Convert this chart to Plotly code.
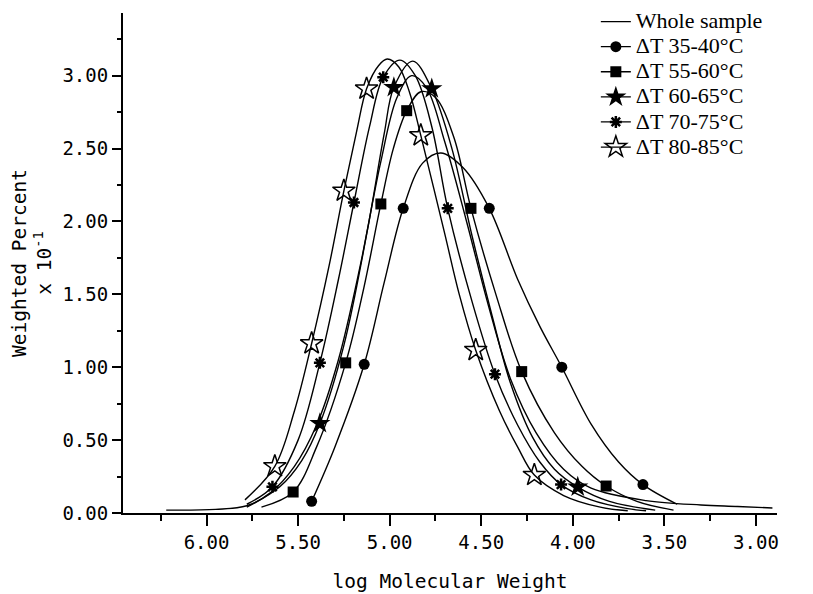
import plotly.graph_objects as go

# ---- data ----
series_names = ["Whole sample", "ΔT 35-40°C", "ΔT 55-60°C", "ΔT 60-65°C", "ΔT 70-75°C", "ΔT 80-85°C"]

# smooth curves
whole_x = [6.22, 5.95, 5.78, 5.65, 5.52, 5.40, 5.28, 5.16, 5.05, 4.96, 4.88, 4.80, 4.70, 4.58, 4.46, 4.34, 4.20, 4.05, 3.90, 3.60, 3.30, 3.10, 2.91]
whole_y = [0.02, 0.025, 0.05, 0.14, 0.32, 0.60, 1.05, 1.70, 2.40, 2.85, 3.00, 2.92, 2.55, 2.00, 1.42, 0.92, 0.55, 0.30, 0.17, 0.085, 0.055, 0.045, 0.034]

c3540_x = [5.426, 5.30, 5.139, 5.03, 4.926, 4.82, 4.72, 4.60, 4.456, 4.30, 4.18, 4.06, 3.90, 3.75, 3.617, 3.43]
c3540_y = [0.08, 0.45, 1.02, 1.58, 2.09, 2.40, 2.47, 2.37, 2.09, 1.60, 1.28, 1.00, 0.61, 0.35, 0.195, 0.06]

c5560_x = [5.70, 5.527, 5.40, 5.24, 5.14, 5.048, 4.98, 4.907, 4.83, 4.75, 4.65, 4.556, 4.42, 4.279, 4.10, 3.95, 3.818, 3.65, 3.45]
c5560_y = [0.04, 0.144, 0.45, 1.03, 1.55, 2.12, 2.50, 2.76, 2.89, 2.85, 2.58, 2.09, 1.50, 0.97, 0.55, 0.32, 0.185, 0.08, 0.02]

c6065_x = [5.78, 5.60, 5.48, 5.381, 5.25, 5.12, 5.03, 4.977, 4.874, 4.77, 4.66, 4.55, 4.44, 4.34, 4.22, 4.10, 3.973, 3.80, 3.55]
c6065_y = [0.04, 0.18, 0.36, 0.614, 1.15, 1.95, 2.60, 2.92, 3.10, 2.91, 2.50, 1.90, 1.35, 0.89, 0.52, 0.30, 0.178, 0.08, 0.02]

c7075_x = [5.78, 5.64, 5.50, 5.381, 5.28, 5.195, 5.11, 5.035, 4.944, 4.86, 4.77, 4.683, 4.55, 4.425, 4.30, 4.18, 4.064, 3.90, 3.70, 3.60]
c7075_y = [0.06, 0.18, 0.50, 1.03, 1.60, 2.13, 2.65, 2.99, 3.107, 3.00, 2.65, 2.09, 1.45, 0.952, 0.60, 0.35, 0.195, 0.09, 0.03, 0.015]

c8085_x = [5.79, 5.627, 5.52, 5.426, 5.33, 5.25, 5.18, 5.126, 5.06, 5.013, 4.95, 4.89, 4.83, 4.70, 4.62, 4.53, 4.40, 4.30, 4.21, 4.05, 3.85, 3.70]
c8085_y = [0.09, 0.32, 0.70, 1.163, 1.70, 2.21, 2.62, 2.91, 3.07, 3.114, 3.06, 2.88, 2.59, 1.92, 1.50, 1.117, 0.70, 0.45, 0.26, 0.12, 0.04, 0.015]

# marker points
m3540_x = [5.426, 5.139, 4.926, 4.456, 4.06, 3.617]
m3540_y = [0.08, 1.02, 2.09, 2.09, 1.00, 0.195]
m5560_x = [5.527, 5.24, 5.048, 4.907, 4.556, 4.279, 3.818]
m5560_y = [0.144, 1.03, 2.12, 2.76, 2.09, 0.97, 0.185]
m6065_x = [5.381, 4.977, 4.77, 3.973]
m6065_y = [0.614, 2.92, 2.91, 0.178]
m7075_x = [5.64, 5.381, 5.195, 5.035, 4.683, 4.425, 4.064]
m7075_y = [0.18, 1.03, 2.13, 2.99, 2.09, 0.952, 0.195]
m8085_x = [5.627, 5.426, 5.25, 5.126, 4.83, 4.53, 4.21]
m8085_y = [0.32, 1.163, 2.21, 2.91, 2.59, 1.117, 0.26]

x_tickvals = [6.0, 5.5, 5.0, 4.5, 4.0, 3.5, 3.0]
x_ticktext = ["6.00", "5.50", "5.00", "4.50", "4.00", "3.50", "3.00"]
y_tickvals = [0.0, 0.5, 1.0, 1.5, 2.0, 2.5, 3.0]
y_ticktext = ["0.00", "0.50", "1.00", "1.50", "2.00", "2.50", "3.00"]

# ---- styles ----
curves = [(whole_x, whole_y), (c3540_x, c3540_y), (c5560_x, c5560_y),
          (c6065_x, c6065_y), (c7075_x, c7075_y), (c8085_x, c8085_y)]
marks = [None, (m3540_x, m3540_y), (m5560_x, m5560_y), (m6065_x, m6065_y),
         (m7075_x, m7075_y), (m8085_x, m8085_y)]
marker_styles = [
    None,
    dict(symbol="circle", size=11, color="black"),
    dict(symbol="square", size=11, color="black"),
    dict(symbol="star", size=16, color="black"),
    dict(symbol="asterisk-open", size=10, color="black", line=dict(color="black", width=2.5)),
    dict(symbol="star-open", size=17, color="black", line=dict(color="black", width=1.5)),
]

fig = go.Figure()
for i, name in enumerate(series_names):
    cx, cy = curves[i]
    fig.add_trace(go.Scatter(x=cx, y=cy, mode="lines", line=dict(color="black", width=1.4, shape="spline", smoothing=1.0),
                             showlegend=False, hoverinfo="skip", legendgroup=name))
    if marks[i] is not None:
        mx, my = marks[i]
        fig.add_trace(go.Scatter(x=mx, y=my, mode="markers", marker=marker_styles[i],
                                 showlegend=False, legendgroup=name))

# legend entries
for i, name in enumerate(series_names):
    label = '<span style="font-size:22px">' + name + '</span>'
    if marker_styles[i] is None:
        fig.add_trace(go.Scatter(x=[None], y=[None], mode="lines", line=dict(color="black", width=1.3),
                                 name=label, legendgroup=name))
    else:
        fig.add_trace(go.Scatter(x=[None], y=[None], mode="lines+markers", line=dict(color="black", width=1.3),
                                 marker=marker_styles[i], name=label, legendgroup=name))

mono = "DejaVu Sans Mono"
# the page body adds an 8 px offset, so the figure is 8 px smaller and margins compensate
fig.update_layout(
    width=805, height=586,
    paper_bgcolor="white", plot_bgcolor="white",
    margin=dict(l=115, r=36, t=5, b=81, autoexpand=False),
    font=dict(family=mono, size=19, color="black"),
    legend=dict(x=0.723, y=1.018, xanchor="left", yanchor="top",
                font=dict(family="Liberation Serif", size=17, color="black"),
                bgcolor="rgba(0,0,0,0)", itemwidth=30, tracegroupgap=0),
    showlegend=True,
)
fig.update_xaxes(
    range=[6.456, 2.885], autorange=False, automargin=False,
    tickmode="array", tickvals=x_tickvals, ticktext=x_ticktext,
    ticks="outside", ticklen=11, tickwidth=1.5, tickcolor="black",
    minor=dict(dtick=0.25, tick0=0, ticks="outside", ticklen=6, tickwidth=1.5, tickcolor="black"),
    showline=True, linecolor="black", linewidth=2, showgrid=False, zeroline=False,
    ticklabelstandoff=0,
    tickfont=dict(family=mono, size=19),
    title=dict(text="log Molecular Weight", font=dict(family=mono, size=19.5), standoff=23),
)
fig.update_yaxes(
    range=[0, 3.43], autorange=False, automargin=False,
    tickmode="array", tickvals=y_tickvals, ticktext=y_ticktext,
    ticks="outside", ticklen=9, tickwidth=1.5, tickcolor="black",
    minor=dict(dtick=0.25, tick0=0, ticks="outside", ticklen=4, tickwidth=1.5, tickcolor="black"),
    showline=True, linecolor="black", linewidth=2, showgrid=False, zeroline=False,
    ticklabelstandoff=0,
    tickfont=dict(family=mono, size=19),
    title=dict(text="Weighted Percent<br>x 10<sup>-1</sup>", font=dict(family=mono, size=19.5), standoff=7),
)

fig.write_html("out.html")
